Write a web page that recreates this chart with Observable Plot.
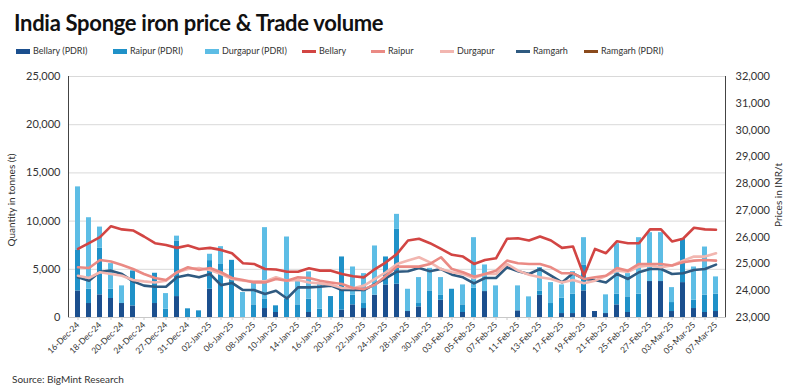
<!DOCTYPE html>
<html>
<head>
<meta charset="utf-8">
<script src="https://cdn.jsdelivr.net/npm/d3@7"></script>
<script src="https://cdn.jsdelivr.net/npm/@observablehq/plot@0.6"></script>
<style>
  body { margin: 0; background: #fff; font-family: Lato, "Open Sans", sans-serif; }
  #wrap { position: relative; width: 794px; height: 391px; overflow: hidden; background: #fff; }
  #title { position: absolute; left: 14px; top: 9px; font-size: 22px; font-weight: bold; color: #111; letter-spacing: -0.3px; }
  #legend { position: absolute; left: 0; top: 45px; width: 794px; height: 14px; font-size: 9px; color: #333; }
  .li { position: absolute; top: 0; white-space: nowrap; line-height: 12px; }
  .sw { display: inline-block; width: 14px; vertical-align: middle; margin-right: 3px; }
  #chart { position: absolute; left: 0; top: 60px; }
  #ylab { position: absolute; left: 11px; top: 200px; transform: translate(-50%, -50%) rotate(-90deg); font-size: 10px; color: #333; white-space: nowrap; }
  #y2lab { position: absolute; left: 778px; top: 195px; transform: translate(-50%, -50%) rotate(-90deg); font-size: 10px; color: #333; white-space: nowrap; }
  #source { position: absolute; left: 12px; top: 373px; font-size: 10px; color: #333; }
</style>
</head>
<body>
<div id="wrap">
  <div id="title">India Sponge iron price &amp; Trade volume</div>
  <div id="legend"></div>
  <div id="chart"></div>
  <div id="ylab">Quantity in tonnes (t)</div>
  <div id="y2lab">Prices in INR/t</div>
  <div id="source">Source: BigMint Research</div>
</div>
<script>
// ---------- data ----------
const dates = ["16-Dec-24","17-Dec-24","18-Dec-24","19-Dec-24","20-Dec-24","23-Dec-24","24-Dec-24","26-Dec-24","27-Dec-24","30-Dec-24",
  "31-Dec-24","01-Jan-25","02-Jan-25","03-Jan-25","06-Jan-25","07-Jan-25","08-Jan-25","09-Jan-25","10-Jan-25","13-Jan-25",
  "14-Jan-25","15-Jan-25","16-Jan-25","17-Jan-25","20-Jan-25","21-Jan-25","22-Jan-25","23-Jan-25","24-Jan-25","27-Jan-25",
  "28-Jan-25","29-Jan-25","30-Jan-25","31-Jan-25","03-Feb-25","04-Feb-25","05-Feb-25","06-Feb-25","07-Feb-25","10-Feb-25",
  "11-Feb-25","12-Feb-25","13-Feb-25","14-Feb-25","17-Feb-25","18-Feb-25","19-Feb-25","20-Feb-25","21-Feb-25","24-Feb-25",
  "25-Feb-25","26-Feb-25","27-Feb-25","28-Feb-25","03-Mar-25","04-Mar-25","05-Mar-25","06-Mar-25","07-Mar-25"];

const bellaryPDRI = [2750,1450,2350,1970,1450,1200,0,1450,0,2170, 0,0,2930,0,0,0,0,930,520,0,
  0,520,0,0,760,1310,930,2310,3380,3450, 620,1100,0,1790,0,520,0,2690,0,0,
  690,0,2300,0,410,410,2760,620,410,1310, 520,0,3730,3730,620,3620,930,520,620];
const raipurPDRI = [4200,1500,4830,960,0,3630,0,3140,860,5770, 900,690,2970,5500,5930,0,1310,1000,690,1900,
  1310,1380,860,2170,5520,1000,520,0,2900,5690, 0,350,2760,500,2930,790,3040,0,0,0,
  0,0,450,1450,1590,2010,2690,0,0,1110, 1620,2420,0,0,930,4560,860,1790,1800];
const durgapurPDRI = [6600,7400,2200,2660,1830,0,0,0,1620,500, 0,0,660,1850,0,2590,2210,7390,0,6450,
  2490,2830,2660,0,0,2930,3100,5110,0,1560, 2310,2690,2340,1850,0,2070,5240,2760,3280,0,
  2590,2140,2430,2170,1380,2340,2830,0,1940,5240, 2410,5860,5070,5070,1550,0,3450,5000,1790];
const ramgarhPDRI = new Array(59).fill(0);

const bellaryPrice = [25560,25775,26000,26410,26290,26250,26025,25775,25710,25600,25690,25560,25600,25525,25400,25025,25000,24810,24790,24710,
  24710,24840,24750,24750,24625,24540,24500,24810,25060,25375,25875,25940,25775,25560,25340,25275,25000,25150,25210,25940,
  25960,25875,26025,25875,25600,25650,24560,25560,25400,25850,25775,25775,26290,26290,25840,25940,26350,26290,26275];
const raipurPrice = [24875,24850,25150,25090,24960,24810,24625,24475,24400,24690,24875,24775,24850,24690,24475,24400,24310,24310,24440,24375,
  24500,24475,24375,24310,24250,24100,24060,24225,24560,24900,24900,24900,25000,25250,24810,24690,24525,24625,24750,25125,
  25025,25000,25000,24875,24650,24650,24440,24500,24560,24850,24750,25000,25000,25000,24940,25060,25125,25150,25125];
const durgapurPrice = [24560,24475,24690,24625,24560,24400,24350,24310,24375,24690,24810,24850,24775,24625,24440,24375,24350,24350,24500,24375,
  24400,24310,24275,24225,24100,24090,24190,24440,24690,25000,25125,25250,25060,24810,24690,24625,24475,24625,24625,25000,
  24750,24600,24500,24440,24310,24400,24275,24375,24560,24750,24710,24900,24940,24875,24940,25125,25275,25275,25400];
const ramgarhPrice = [24500,24375,24710,24750,24625,24350,24190,24150,24150,24500,24590,24500,24625,24210,24290,24025,24025,23875,24000,23710,
  24125,24125,24150,24190,24025,24025,24025,24250,24475,24710,24725,24850,24725,24810,24600,24500,24275,24475,24475,24875,
  24725,24625,24810,24560,24310,24650,24440,24400,24310,24625,24440,24690,24810,24810,24625,24650,24775,24810,24975];

const qtyTicks = [0, 5000, 10000, 15000, 20000, 25000];
const priceTicks = [23000, 24000, 25000, 26000, 27000, 28000, 29000, 30000, 31000, 32000];

// ---------- colours ----------
const colors = {
  "Bellary (PDRI)": "#1b4f8e",
  "Raipur (PDRI)": "#1f91c8",
  "Durgapur (PDRI)": "#5dbde5",
  "Bellary": "#d24543",
  "Raipur": "#ea8a84",
  "Durgapur": "#f2b6b0",
  "Ramgarh": "#2f5a80",
  "Ramgarh (PDRI)": "#8a4a1c"
};

// ---------- legend ----------
const legendItems = [
  ["Bellary (PDRI)", 16, 5], ["Raipur (PDRI)", 113, 5], ["Durgapur (PDRI)", 205, 5],
  ["Bellary", 302, 3], ["Raipur", 371, 3], ["Durgapur", 440, 3],
  ["Ramgarh", 516, 3], ["Ramgarh (PDRI)", 584, 3]
];
const leg = document.getElementById("legend");
for (const [name, x, h] of legendItems) {
  const d = document.createElement("div");
  d.className = "li";
  d.style.left = x + "px";
  d.innerHTML = `<span class="sw" style="height:${h}px;background:${colors[name]}"></span>${name}`;
  leg.appendChild(d);
}

// ---------- build tables ----------
const qMin = 23000, qMax = 32000, leftMax = 25000;
const toQ = p => (p - qMin) * leftMax / (qMax - qMin);
const fromQ = q => q * (qMax - qMin) / leftMax + qMin;

const bars = [];
dates.forEach((d, i) => {
  bars.push({date: d, series: "Bellary (PDRI)", value: bellaryPDRI[i]});
  bars.push({date: d, series: "Raipur (PDRI)", value: raipurPDRI[i]});
  bars.push({date: d, series: "Durgapur (PDRI)", value: durgapurPDRI[i]});
  bars.push({date: d, series: "Ramgarh (PDRI)", value: ramgarhPDRI[i]});
});
const priceSeries = [["Ramgarh", ramgarhPrice], ["Durgapur", durgapurPrice], ["Raipur", raipurPrice], ["Bellary", bellaryPrice]];
const lines = [];
for (const [name, arr] of priceSeries) {
  dates.forEach((d, i) => lines.push({date: d, series: name, price: arr[i]}));
}

const fmt = d3.format(",");
const labelDates = dates.filter((d, i) => i % 2 === 0);

const chart = Plot.plot({
  width: 794,
  height: 315,
  marginTop: 16,
  marginBottom: 58,
  marginLeft: 68,
  marginRight: 69,
  style: {fontFamily: "Lato, 'Open Sans', sans-serif", fontSize: "10px", color: "#333", background: "#fff"},
  x: {type: "band", domain: dates, paddingInner: 0.55, paddingOuter: 0.275},
  y: {domain: [0, leftMax]},
  color: {domain: Object.keys(colors), range: Object.values(colors)},
  marks: [
    Plot.ruleY(qtyTicks.filter(d => d > 0), {stroke: "#d9d9d9", strokeWidth: 1}),
    Plot.barY(bars, {x: "date", y: "value", fill: "series", order: null}),
    Plot.line(lines, {x: "date", y: d => toQ(d.price), z: "series", stroke: "series", strokeWidth: 2.6, strokeLinejoin: "round"}),
    Plot.frame({anchor: "left", stroke: "#444"}),
    Plot.frame({anchor: "right", stroke: "#444"}),
    Plot.frame({anchor: "bottom", stroke: "#c8c8c8"}),
    Plot.axisY(qtyTicks, {anchor: "left", tickFormat: fmt, tickSize: 0, tickPadding: 8, fontSize: 11, label: null}),
    Plot.axisY(priceTicks.map(toQ), {anchor: "right", tickFormat: q => fmt(Math.round(fromQ(q))), tickSize: 0, tickPadding: 10, fontSize: 11, label: null}),
    Plot.axisX(dates, {anchor: "bottom", tickSize: 3, stroke: "#c8c8c8", tickFormat: () => "", label: null}),
    Plot.axisX(labelDates, {anchor: "bottom", tickSize: 0, tickPadding: 6, tickRotate: -45, fontSize: 8.5, label: null})
  ]
});
document.getElementById("chart").appendChild(chart);
</script>
</body>
</html>
